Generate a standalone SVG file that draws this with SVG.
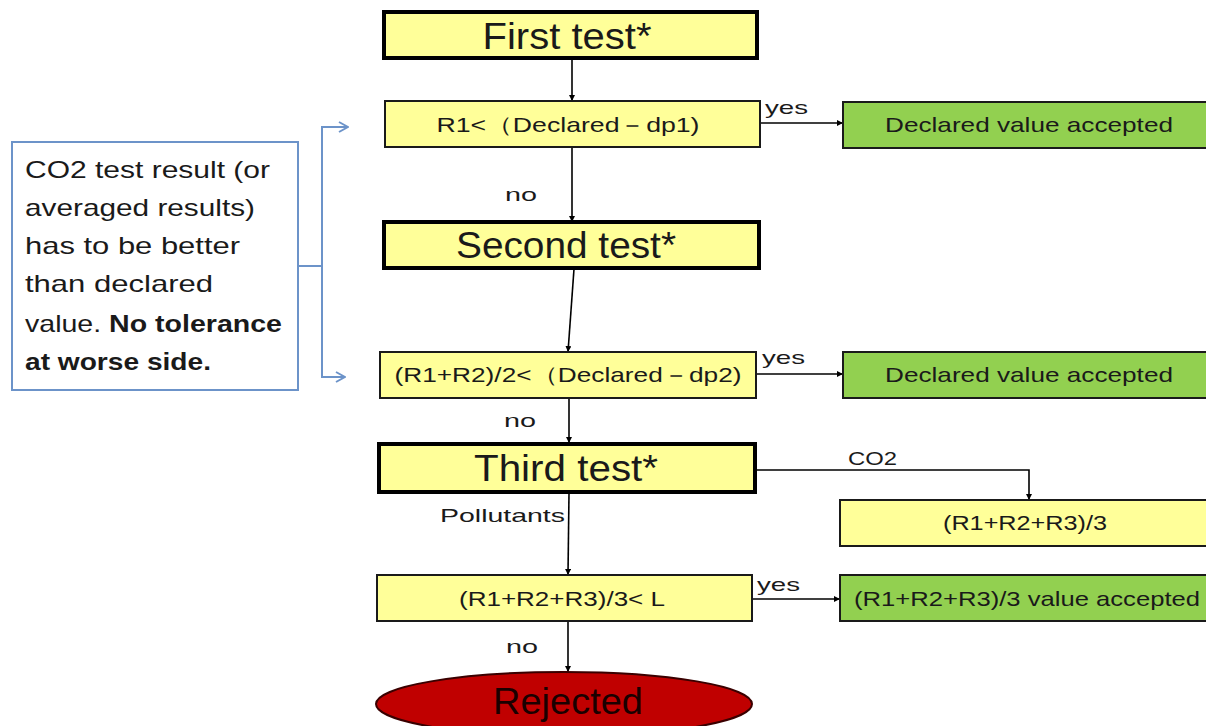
<svg xmlns="http://www.w3.org/2000/svg" width="1206" height="726" viewBox="0 0 1206 726">
<style>
text{font-family:"Liberation Sans",Arial,sans-serif;fill:#1a1a1a}
.big{stroke:#000;stroke-width:4;fill:#FFFF99}
.box{stroke:#1a1a1a;stroke-width:2;fill:#FFFF99}
.ok{stroke:#1a1a1a;stroke-width:2;fill:#92D050}
.t1{font-size:36px;text-anchor:middle}
.t2{font-size:21px;text-anchor:middle}
.lbl{font-size:19px}
.note{font-size:24px}
.c{stroke:#000;stroke-width:1.6;fill:none}
.b{stroke:#6C93C9;stroke-width:2;fill:none}
</style>
<defs>
<marker id="ah" viewBox="0 0 10 10" refX="10" refY="5" markerWidth="6" markerHeight="6" orient="auto" markerUnits="userSpaceOnUse">
<path d="M0,0 L10,5 L0,10 z" fill="#000"/>
</marker>
<marker id="bh" viewBox="0 0 12 12" refX="11" refY="6" markerWidth="12" markerHeight="12" orient="auto" markerUnits="userSpaceOnUse">
<path d="M2,1 L11,6 L2,11" fill="none" stroke="#6C93C9" stroke-width="2"/>
</marker>
</defs>
<g id="connectors">
<line class="c" x1="572" y1="59" x2="572" y2="101" marker-end="url(#ah)"/>
<line class="c" x1="760" y1="123" x2="843" y2="123" marker-end="url(#ah)"/>
<line class="c" x1="572" y1="147" x2="572" y2="222" marker-end="url(#ah)"/>
<line class="c" x1="574" y1="269" x2="568" y2="352" marker-end="url(#ah)"/>
<line class="c" x1="756" y1="374" x2="843" y2="374" marker-end="url(#ah)"/>
<line class="c" x1="569" y1="398" x2="569" y2="443" marker-end="url(#ah)"/>
<polyline class="c" points="756,470 1029,470 1029,500" marker-end="url(#ah)"/>
<line class="c" x1="569" y1="493" x2="568" y2="575" marker-end="url(#ah)"/>
<line class="c" x1="752" y1="599" x2="840" y2="599" marker-end="url(#ah)"/>
<line class="c" x1="568" y1="622" x2="568" y2="672" marker-end="url(#ah)"/>
<polyline class="b" points="298,266 322,266"/>
<polyline class="b" points="348,127 322,127 322,377 345,377"/>
<line class="b" x1="322" y1="127" x2="348" y2="127" marker-end="url(#bh)"/>
<line class="b" x1="322" y1="377" x2="345" y2="377" marker-end="url(#bh)"/>
<text class="lbl" x="765" y="114" textLength="43" lengthAdjust="spacingAndGlyphs">yes</text>
<text class="lbl" x="505" y="201" textLength="32" lengthAdjust="spacingAndGlyphs">no</text>
<text class="lbl" x="762" y="364" textLength="43" lengthAdjust="spacingAndGlyphs">yes</text>
<text class="lbl" x="504" y="427" textLength="32" lengthAdjust="spacingAndGlyphs">no</text>
<text class="lbl" x="848" y="465" textLength="49" lengthAdjust="spacingAndGlyphs">CO2</text>
<text class="lbl" x="440" y="522" textLength="125" lengthAdjust="spacingAndGlyphs">Pollutants</text>
<text class="lbl" x="757" y="591" textLength="43" lengthAdjust="spacingAndGlyphs">yes</text>
<text class="lbl" x="506" y="653" textLength="32" lengthAdjust="spacingAndGlyphs">no</text>
</g>
<g id="note">
<rect x="12" y="142" width="286" height="248" fill="#fff" stroke="#6C93C9" stroke-width="2"/>
<text class="note" x="25" y="178" textLength="245" lengthAdjust="spacingAndGlyphs">CO2 test result (or</text>
<text class="note" x="25" y="216" textLength="230" lengthAdjust="spacingAndGlyphs">averaged results)</text>
<text class="note" x="25" y="254" textLength="215" lengthAdjust="spacingAndGlyphs">has to be better</text>
<text class="note" x="25" y="292" textLength="188" lengthAdjust="spacingAndGlyphs">than declared</text>
<text class="note" x="25" y="332" textLength="257" lengthAdjust="spacingAndGlyphs">value. <tspan font-weight="bold">No tolerance</tspan></text>
<text class="note" x="25" y="370" font-weight="bold" textLength="186" lengthAdjust="spacingAndGlyphs">at worse side.</text>
</g>
<g id="first-test">
<rect class="big" x="384" y="12" width="373" height="46"/>
<text class="t1" x="567" y="49" textLength="169" lengthAdjust="spacingAndGlyphs">First test*</text>
</g>
<g id="cond1">
<rect class="box" x="385" y="101" width="375" height="46"/>
<text class="t2" x="568" y="132" textLength="263" lengthAdjust="spacingAndGlyphs">R1&lt;（Declared－dp1)</text>
</g>
<g id="accept1">
<rect class="ok" x="843" y="102" width="370" height="46"/>
<text class="t2" x="1029" y="132" textLength="288" lengthAdjust="spacingAndGlyphs">Declared value accepted</text>
</g>
<g id="second-test">
<rect class="big" x="384" y="222" width="375" height="46"/>
<text class="t1" x="566" y="258" textLength="220" lengthAdjust="spacingAndGlyphs">Second test*</text>
</g>
<g id="cond2">
<rect class="box" x="380" y="352" width="376" height="46"/>
<text class="t2" x="568" y="382" textLength="347" lengthAdjust="spacingAndGlyphs">(R1+R2)/2&lt;（Declared－dp2)</text>
</g>
<g id="accept2">
<rect class="ok" x="843" y="352" width="370" height="46"/>
<text class="t2" x="1029" y="382" textLength="288" lengthAdjust="spacingAndGlyphs">Declared value accepted</text>
</g>
<g id="third-test">
<rect class="big" x="379" y="444" width="376" height="48"/>
<text class="t1" x="566" y="481" textLength="184" lengthAdjust="spacingAndGlyphs">Third test*</text>
</g>
<g id="avg">
<rect class="box" x="840" y="500" width="373" height="46"/>
<text class="t2" x="1025" y="530" textLength="164" lengthAdjust="spacingAndGlyphs">(R1+R2+R3)/3</text>
</g>
<g id="cond3">
<rect class="box" x="377" y="575" width="375" height="46"/>
<text class="t2" x="562" y="606" textLength="206" lengthAdjust="spacingAndGlyphs">(R1+R2+R3)/3&lt; L</text>
</g>
<g id="accept3">
<rect class="ok" x="840" y="575" width="373" height="46"/>
<text class="t2" x="1027" y="606" textLength="346" lengthAdjust="spacingAndGlyphs">(R1+R2+R3)/3 value accepted</text>
</g>
<g id="rejected">
<ellipse cx="564" cy="704" rx="188" ry="32" fill="#C00000" stroke="#3a0000" stroke-width="2"/>
<text class="t1" x="568" y="714" style="fill:#1a0000" textLength="150" lengthAdjust="spacingAndGlyphs">Rejected</text>
</g>
</svg>
